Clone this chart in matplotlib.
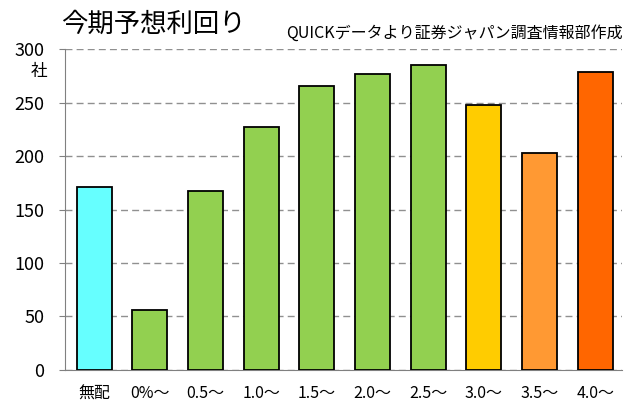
import matplotlib
matplotlib.use("Agg")
import matplotlib.pyplot as plt

plt.rcParams['font.family'] = ['Noto Sans CJK JP', 'DejaVu Sans']

categories = ["無配", "0%～", "0.5～", "1.0～", "1.5～", "2.0～", "2.5～", "3.0～", "3.5～", "4.0～"]
values = [171, 56, 167, 227, 266, 277, 285, 248, 203, 279]
colors = ["#66FFFF", "#92D050", "#92D050", "#92D050", "#92D050", "#92D050",
          "#92D050", "#FFCC00", "#FF9933", "#FF6600"]

fig = plt.figure(figsize=(6.27, 4.03), dpi=100)
ax = fig.add_axes([0.104, 0.082, 0.888, 0.796])

ax.bar(range(len(values)), values, width=0.63, color=colors, edgecolor="black", linewidth=1.3, zorder=3)

ax.set_xlim(-0.52, 9.48)
ax.set_ylim(0, 300)
ax.set_yticks(range(0, 301, 50))
ax.set_xticks(range(len(categories)))
ax.set_xticklabels(categories, fontsize=11.5)
ax.tick_params(axis='x', length=0, pad=11)
ax.tick_params(axis='y', labelsize=13, color="gray", length=4, pad=11)

ax.yaxis.grid(True, linestyle=(0, (5, 3)), color="#909090", linewidth=1, zorder=0)
for s in ["top", "right"]:
    ax.spines[s].set_visible(False)
ax.spines["left"].set_color("gray")
ax.spines["bottom"].set_color("gray")

fig.text(0.097, 0.94, "今期予想利回り", fontsize=19, ha="left", va="center")
fig.text(0.993, 0.918, "QUICKデータより証券ジャパン調査情報部作成", fontsize=11.5, ha="right", va="center")
fig.text(0.063, 0.822, "社", fontsize=12, ha="center", va="center")

fig.savefig("out.png", dpi=100)
